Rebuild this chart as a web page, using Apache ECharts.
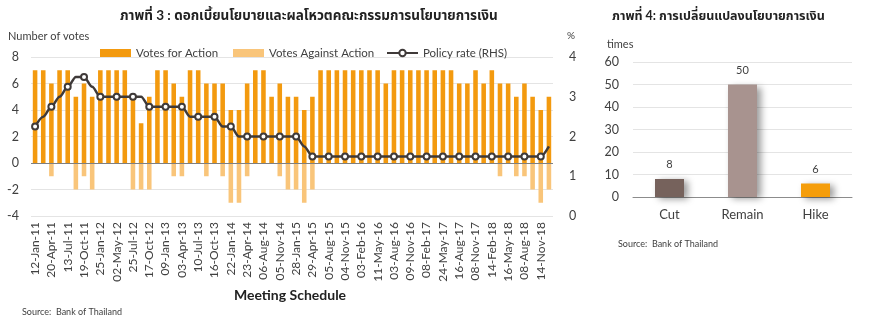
<!DOCTYPE html>
<html>
<head>
<meta charset="utf-8">
<script src="https://cdn.jsdelivr.net/npm/echarts@6/dist/echarts.min.js"></script>
<style>
  html, body { margin: 0; padding: 0; background: #ffffff; }
  #chart { width: 870px; height: 325px; }
</style>
</head>
<body>
<div id="chart"></div>
<script>
// Monetary Policy Committee meetings, 2011-2018
const meetings = [
  '12-Jan-11','09-Mar-11','20-Apr-11','01-Jun-11','13-Jul-11','24-Aug-11','19-Oct-11','30-Nov-11',
  '25-Jan-12','07-Mar-12','02-May-12','13-Jun-12','25-Jul-12','05-Sep-12','17-Oct-12','28-Nov-12',
  '09-Jan-13','20-Feb-13','03-Apr-13','29-May-13','10-Jul-13','21-Aug-13','16-Oct-13','27-Nov-13',
  '22-Jan-14','12-Mar-14','23-Apr-14','18-Jun-14','06-Aug-14','17-Sep-14','05-Nov-14','17-Dec-14',
  '28-Jan-15','11-Mar-15','29-Apr-15','10-Jun-15','05-Aug-15','16-Sep-15','04-Nov-15','16-Dec-15',
  '03-Feb-16','23-Mar-16','11-May-16','22-Jun-16','03-Aug-16','14-Sep-16','09-Nov-16','21-Dec-16',
  '08-Feb-17','29-Mar-17','24-May-17','05-Jul-17','16-Aug-17','27-Sep-17','08-Nov-17','20-Dec-17',
  '14-Feb-18','28-Mar-18','16-May-18','27-Jun-18','08-Aug-18','19-Sep-18','14-Nov-18','19-Dec-18'
];

// Votes for the decision taken at each meeting
const votesForAction = [
  7,7,6,7,7,5,6,5, 7,7,7,7,5,3,5,7,
  7,6,5,7,7,6,6,6, 4,4,6,7,7,5,6,5,
  5,4,5,7,7,7,7,7, 7,7,7,6,7,7,7,7,
  7,7,7,7,6,6,7,6, 7,6,6,5,6,5,4,5
];

// Dissenting votes, plotted below zero
const votesAgainstAction = [
  0,0,-1,0,0,-2,-1,-2, 0,0,0,0,-2,-2,-2,0,
  0,-1,-1,0,0,-1,0,-1, -3,-3,-1,0,0,0,-1,-2,
  -2,-3,-2,0,0,0,0,0, 0,0,0,0,0,0,0,0,
  0,0,0,0,0,0,0,0, 0,-1,0,-1,-1,-2,-3,-2
];

// Policy rate after each meeting (%)
const policyRate = [
  2.25,2.5,2.75,3.0,3.25,3.5,3.5,3.25,
  3.0,3.0,3.0,3.0,3.0,3.0,2.75,2.75,
  2.75,2.75,2.75,2.5,2.5,2.5,2.5,2.25,
  2.25,2.0,2.0,2.0,2.0,2.0,2.0,2.0,
  2.0,1.75,1.5,1.5,1.5,1.5,1.5,1.5,
  1.5,1.5,1.5,1.5,1.5,1.5,1.5,1.5,
  1.5,1.5,1.5,1.5,1.5,1.5,1.5,1.5,
  1.5,1.5,1.5,1.5,1.5,1.5,1.5,1.75
];

// Count of policy decisions by direction
const decisionTypes = ['Cut', 'Remain', 'Hike'];
const decisionCounts = [8, 50, 6];
const decisionColors = ['#76625c', '#a8938f', '#f59d0a'];

const FONT = "Lato, 'Noto Sans Thai', 'Noto Sans', 'DejaVu Sans', sans-serif";
const TXT = '#404040';
const GRIDLINE = '#e4e4e4';

const legendText = { fontFamily: FONT, fontSize: 11.5, color: TXT };
function legendAt(left, name, icon) {
  const item = icon ? { name: name, icon: icon } : { name: name };
  return { left: left, top: 42, itemWidth: 31, itemHeight: 8, itemGap: 4, textStyle: legendText, data: [item] };
}

const chart = echarts.init(document.getElementById('chart'), null, { renderer: 'canvas' });

chart.setOption({
  animation: false,
  backgroundColor: '#ffffff',
  textStyle: { fontFamily: FONT, color: TXT },
  graphic: [
    { type: 'text', left: 120, top: 9,
      style: { text: 'ภาพที่ 3 : ดอกเบี้ยนโยบายและผลโหวตคณะกรรมการนโยบายการเงิน', font: 'bold 13.5px ' + FONT, fill: '#222' } },
    { type: 'text', left: 612, top: 9,
      style: { text: 'ภาพที่ 4: การเปลี่ยนแปลงนโยบายการเงิน', font: 'bold 12.5px ' + FONT, fill: '#222' } },
    { type: 'text', left: 8, top: 31,
      style: { text: 'Number of votes', font: '11px ' + FONT, fill: TXT } },
    { type: 'text', left: 567, top: 31,
      style: { text: '%', font: '10px ' + FONT, fill: TXT } },
    { type: 'text', x: 290, y: 288,
      style: { text: 'Meeting Schedule', font: 'bold 14px ' + FONT, fill: '#222', align: 'center' } },
    { type: 'text', left: 22, top: 308,
      style: { text: 'Source:  Bank of Thailand', font: '9px ' + FONT, fill: TXT } },
    { type: 'text', left: 607, top: 39,
      style: { text: 'times', font: '11px ' + FONT, fill: TXT } },
    { type: 'text', left: 618, top: 240,
      style: { text: 'Source:  Bank of Thailand', font: '9px ' + FONT, fill: TXT } }
  ],
  legend: [
    legendAt(95, 'Votes for Action', 'rect'),
    legendAt(228, 'Votes Against Action', 'rect'),
    legendAt(381, 'Policy rate (RHS)')
  ],
  grid: [
    { left: 31, right: 317, top: 57, bottom: 109 },
    { left: 633, right: 18, top: 62, bottom: 128 }
  ],
  xAxis: [
    {
      type: 'category', gridIndex: 0, data: meetings,
      axisLine: { show: false }, axisTick: { show: false },
      axisLabel: { interval: 1, rotate: 90, fontSize: 12, color: TXT, margin: 6, fontFamily: FONT }
    },
    {
      type: 'category', gridIndex: 1, data: decisionTypes,
      axisLine: { lineStyle: { color: '#8c8c8c' } }, axisTick: { show: false },
      axisLabel: { fontSize: 13, color: TXT, margin: 11, fontFamily: FONT }
    }
  ],
  yAxis: [
    {
      type: 'value', gridIndex: 0, min: -4, max: 8, interval: 2,
      axisLine: { show: false }, axisTick: { show: false },
      axisLabel: { fontSize: 12.5, color: TXT, margin: 12, fontFamily: FONT },
      splitLine: { lineStyle: { color: GRIDLINE } }
    },
    {
      type: 'value', gridIndex: 0, min: 0, max: 4, interval: 1, position: 'right',
      axisLine: { show: false }, axisTick: { show: false },
      axisLabel: { fontSize: 12.5, color: TXT, margin: 16, fontFamily: FONT },
      splitLine: { show: false }
    },
    {
      type: 'value', gridIndex: 1, min: 0, max: 60, interval: 10,
      axisLine: { show: false }, axisTick: { show: false },
      axisLabel: { fontSize: 12.5, color: TXT, margin: 14, fontFamily: FONT },
      splitLine: { lineStyle: { color: GRIDLINE } }
    }
  ],
  series: [
    {
      name: 'Votes for Action', type: 'bar', xAxisIndex: 0, yAxisIndex: 0,
      stack: 'votes', barWidth: '56%',
      itemStyle: { color: '#f39a0f' },
      data: votesForAction,
      markLine: {
        silent: true, symbol: 'none', label: { show: false },
        lineStyle: { color: '#7f7f7f', type: 'solid', width: 1 },
        data: [{ yAxis: 0 }]
      }
    },
    {
      name: 'Votes Against Action', type: 'bar', xAxisIndex: 0, yAxisIndex: 0,
      stack: 'votes', barWidth: '56%',
      itemStyle: { color: '#f9c57a' },
      data: votesAgainstAction
    },
    {
      name: 'Policy rate (RHS)', type: 'line', xAxisIndex: 0, yAxisIndex: 1,
      data: policyRate, z: 5,
      smooth: 0.3, smoothMonotone: 'x',
      symbol: 'circle', symbolSize: 6,
      lineStyle: { color: '#3f3a39', width: 2.5 },
      itemStyle: { color: '#ffffff', borderColor: '#3f3a39', borderWidth: 2 }
    },
    {
      name: 'Decisions', type: 'bar', xAxisIndex: 1, yAxisIndex: 2,
      barWidth: 29,
      data: decisionCounts.map((v, i) => ({
        value: v,
        itemStyle: {
          color: decisionColors[i],
          shadowColor: 'rgba(0,0,0,0.4)', shadowBlur: 7, shadowOffsetX: 4, shadowOffsetY: 2
        }
      })),
      label: { show: true, position: 'top', distance: 9, fontSize: 11, color: TXT, fontFamily: FONT }
    }
  ]
});
</script>
</body>
</html>
